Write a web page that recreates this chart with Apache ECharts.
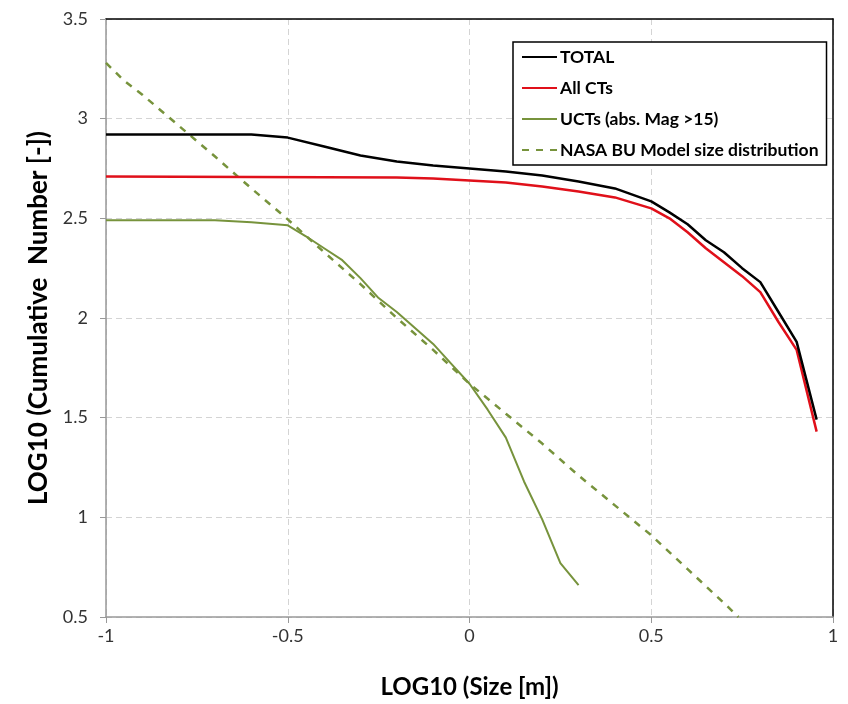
<!DOCTYPE html>
<html>
<head>
<meta charset="utf-8">
<script src="https://cdn.jsdelivr.net/npm/echarts@6/dist/echarts.min.js"></script>
<style>html,body{margin:0;padding:0;background:#fff;}#c{width:848px;height:704px;}</style>
</head>
<body>
<div id="c"></div>
<script>
// Data (x = LOG10(Size [m]), y = LOG10(Cumulative Number))
const seriesNames = ['TOTAL', 'All CTs', 'UCTs (abs. Mag >15)', 'NASA BU Model size distribution'];

const totalX = [-1, -0.6, -0.5, -0.4, -0.3, -0.2, -0.1, 0, 0.1, 0.2, 0.3, 0.4, 0.5, 0.55, 0.6, 0.65, 0.7, 0.75, 0.8, 0.85, 0.9, 0.955];
const totalY = [2.92, 2.92, 2.905, 2.86, 2.815, 2.785, 2.765, 2.75, 2.735, 2.715, 2.685, 2.65, 2.585, 2.53, 2.47, 2.39, 2.33, 2.25, 2.18, 2.03, 1.88, 1.49];

const ctsX = [-1, -0.2, -0.1, 0, 0.1, 0.2, 0.3, 0.4, 0.5, 0.55, 0.6, 0.65, 0.7, 0.75, 0.8, 0.85, 0.9, 0.955];
const ctsY = [2.71, 2.705, 2.70, 2.69, 2.68, 2.66, 2.635, 2.605, 2.55, 2.50, 2.43, 2.35, 2.28, 2.21, 2.13, 1.98, 1.84, 1.43];

const uctX = [-1, -0.7, -0.6, -0.5, -0.45, -0.4, -0.35, -0.3, -0.25, -0.2, -0.15, -0.1, -0.05, 0, 0.05, 0.1, 0.15, 0.2, 0.25, 0.3];
const uctY = [2.49, 2.49, 2.48, 2.465, 2.41, 2.35, 2.29, 2.20, 2.10, 2.03, 1.95, 1.87, 1.77, 1.67, 1.54, 1.40, 1.18, 0.99, 0.77, 0.66];

const nasaX = [-1, -0.95, -0.9, -0.8, -0.7, -0.6, -0.5, -0.4, -0.3, -0.2, -0.1, 0, 0.1, 0.2, 0.3, 0.4, 0.5, 0.6, 0.7, 0.74];
const nasaY = [3.28, 3.19, 3.12, 2.965, 2.81, 2.65, 2.495, 2.33, 2.17, 2.00, 1.84, 1.67, 1.52, 1.37, 1.21, 1.06, 0.91, 0.74, 0.57, 0.5];

const xTicks = [-1, -0.5, 0, 0.5, 1];
const yTicks = [0.5, 1, 1.5, 2, 2.5, 3, 3.5];

const zip = (xs, ys) => xs.map((x, i) => [x, ys[i]]);

const font = 'Lato, "Open Sans", sans-serif';
const xMin = xTicks[0], xMax = xTicks[xTicks.length - 1];
const yMin = yTicks[0], yMax = yTicks[yTicks.length - 1];
const chart = echarts.init(document.getElementById('c'));
chart.setOption({
  animation: false,
  backgroundColor: '#fff',
  grid: { left: 106, right: 15, top: 19, bottom: 84 },
  legend: {
    orient: 'vertical', left: 513, top: 42,
    padding: [6, 8, 6, 8],
    backgroundColor: '#fff', borderColor: '#000', borderWidth: 1.5,
    itemWidth: 35, itemHeight: 14, itemGap: 13,
    itemStyle: { opacity: 0 },
    textStyle: { fontFamily: font, fontSize: 17.5, fontWeight: 'bold', color: '#000', padding: [0, 0, 0, -2] },
    data: seriesNames
  },
  xAxis: [{
    type: 'value', min: xMin, max: xMax, interval: 0.5,
    name: 'LOG10 (Size [m])', nameLocation: 'middle', nameGap: 58,
    nameTextStyle: { fontFamily: font, fontSize: 24, fontWeight: 'bold', color: '#000' },
    axisLine: { onZero: false, lineStyle: { color: '#999', width: 1.5 } },
    axisTick: { show: true, length: 6, lineStyle: { color: '#999' } },
    axisLabel: { fontFamily: font, fontSize: 18, color: '#333', margin: 10 },
    splitLine: { show: true, lineStyle: { color: '#d4d4d4', type: [6, 4] } }
  }, {
    type: 'value', position: 'top', min: xMin, max: xMax, interval: 0.5,
    axisLine: { onZero: false, lineStyle: { color: '#000', width: 1.5 } },
    axisTick: { show: false }, axisLabel: { show: false }, splitLine: { show: false }
  }],
  yAxis: [{
    type: 'value', min: yMin, max: yMax, interval: 0.5,
    name: 'LOG10 (Cumulative  Number [-])', nameLocation: 'middle', nameGap: 54, nameRotate: 90,
    nameTextStyle: { fontFamily: font, fontSize: 26, fontWeight: 'bold', color: '#000' },
    axisLine: { show: true, onZero: false, lineStyle: { color: '#999', width: 1.5 } },
    axisTick: { show: true, length: 6, lineStyle: { color: '#999' } },
    axisLabel: { fontFamily: font, fontSize: 18, color: '#333', margin: 18 },
    splitLine: { show: true, lineStyle: { color: '#d4d4d4', type: [6, 4] } }
  }, {
    type: 'value', position: 'right', min: yMin, max: yMax, interval: 0.5,
    axisLine: { show: true, onZero: false, lineStyle: { color: '#000', width: 1.5 } },
    axisTick: { show: false }, axisLabel: { show: false }, splitLine: { show: false }
  }],
  series: [
    { name: seriesNames[0], type: 'line', data: zip(totalX, totalY), symbol: 'none', color: '#000', lineStyle: { color: '#000', width: 2.5 }, z: 4 },
    { name: seriesNames[1], type: 'line', data: zip(ctsX, ctsY), symbol: 'none', color: '#e0101a', lineStyle: { color: '#e0101a', width: 2.5 }, z: 3 },
    { name: seriesNames[2], type: 'line', data: zip(uctX, uctY), symbol: 'none', color: '#77933c', lineStyle: { color: '#77933c', width: 2 }, z: 2 },
    { name: seriesNames[3], type: 'line', data: zip(nasaX, nasaY), symbol: 'none', color: '#77933c', lineStyle: { color: '#77933c', width: 2.5, type: [7, 7] }, z: 2 }
  ]
});
</script>
</body>
</html>
